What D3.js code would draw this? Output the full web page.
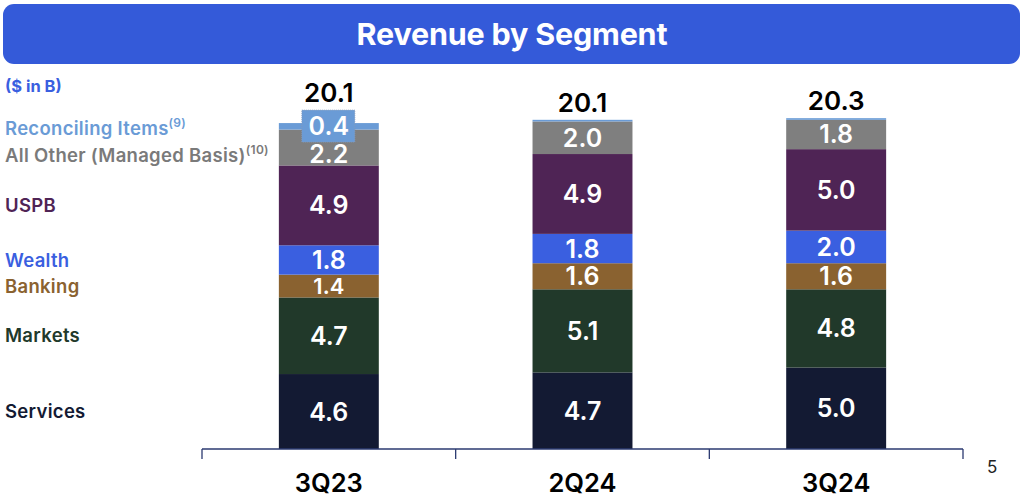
<!DOCTYPE html>
<html><head><meta charset="utf-8">
<script src="https://cdn.jsdelivr.net/npm/d3@7/dist/d3.min.js"></script>
<style>body{margin:0;background:#fff}svg{display:block;font-family:Inter,"Noto Sans",sans-serif}</style>
</head><body><svg id="c" width="1024" height="503"></svg>
<script>
const categories = ["3Q23", "2Q24", "3Q24"];
const segments = ["Services", "Markets", "Banking", "Wealth", "USPB", "All Other (Managed Basis)", "Reconciling Items"];
const superscripts = ["", "", "", "", "", "(10)", "(9)"];
const services = [4.6, 4.7, 5.0];
const markets = [4.7, 5.1, 4.8];
const banking = [1.4, 1.6, 1.6];
const wealth = [1.8, 1.8, 2.0];
const uspb = [4.9, 4.9, 5.0];
const allOther = [2.2, 2.0, 1.8];
const reconciling = [0.4, 0.1, 0.1];
const totals = ["20.1", "20.1", "20.3"];
const colors = ["#131a33", "#21392a", "#8a6230", "#3a5fe0", "#4f2455", "#7f7f7f", "#6a9bd6"];
const labelColors = ["#131a33", "#21392a", "#8a6230", "#3a5fe0", "#4f2455", "#7a7a7a", "#6a9bd6"];

const series = [services, markets, banking, wealth, uspb, allOther, reconciling];
const rows = categories.map((c, i) => {
  const r = {cat: c};
  segments.forEach((s, j) => r[s] = series[j][i]);
  return r;
});
const stack = d3.stack().keys(segments)(rows);

const svg = d3.select("#c");
// title bar
svg.append("rect").attr("x", 3).attr("y", 4).attr("width", 1017).attr("height", 60)
  .attr("rx", 11).attr("fill", "#345ad9");
svg.append("text").attr("x", 512).attr("y", 45).attr("text-anchor", "middle")
  .attr("fill", "#fff").attr("font-size", 30.5).attr("font-weight", 700)
  .attr("letter-spacing", -0.2).text("Revenue by Segment");

svg.append("text").attr("x", 5).attr("y", 92).attr("fill", "#3a5fe0")
  .attr("font-size", 16.5).attr("font-weight", 700).text("($ in B)");

const x = d3.scaleBand().domain(categories).range([202, 963]).paddingInner(0.606).paddingOuter(0.303);
const y = d3.scaleLinear().domain([0, 20.25]).range([449, 119]);

const g = svg.append("g");
stack.forEach((layer, j) => {
  g.selectAll(null).data(layer).enter().append("rect")
    .attr("x", d => x(d.data.cat)).attr("width", x.bandwidth())
    .attr("y", d => y(d[1])).attr("height", d => y(d[0]) - y(d[1]))
    .attr("fill", colors[j]);
});

// reconciling label box for 3Q23
const recIdx = segments.length - 1;
const boxTops = categories.map(() => null);
stack[recIdx].forEach((d, i) => {
  if (d.data[segments[recIdx]] >= 0.3) {
    const cx = x(d.data.cat) + x.bandwidth() / 2;
    const cy = y(d[1]) + 3;
    svg.append("rect").attr("x", cx - 27).attr("y", cy - 16).attr("width", 53).attr("height", 32)
      .attr("fill", colors[recIdx]).attr("stroke", "#8a9bb8").attr("stroke-dasharray", "1,1").attr("stroke-width", 0.8);
    boxTops[i] = cy - 16;
  }
});

// segment value labels
stack.forEach((layer, j) => {
  layer.forEach((d, i) => {
    const v = d.data[segments[j]];
    if (v < 0.3) return;
    const cx = x(d.data.cat) + x.bandwidth() / 2;
    const h = y(d[0]) - y(d[1]);
    let cy = (y(d[0]) + y(d[1])) / 2;
    if (j === recIdx) cy = y(d[1]) + 3;
    if (j === recIdx - 1 && d.data[segments[recIdx]] >= 0.3) cy += 6;
    svg.append("text").attr("x", cx).attr("y", cy).attr("dy", "0.36em")
      .attr("text-anchor", "middle").attr("fill", "#fff").attr("font-size", h < 26 && j !== recIdx ? 22 : 25)
      .attr("font-weight", 600).text(v.toFixed(1));
  });
});

// totals
stack[recIdx].forEach((d, i) => {
  const cx = x(d.data.cat) + x.bandwidth() / 2;
  const top = boxTops[i] !== null ? boxTops[i] : y(d[1]);
  svg.append("text").attr("x", cx).attr("y", top - 8)
    .attr("text-anchor", "middle").attr("fill", "#000").attr("font-size", 26)
    .attr("font-weight", 600).text(totals[i]);
});

// left segment labels, aligned to first bar
const nudges = [0, 0, 0, 0, 0, 8, 2];
segments.forEach((s, j) => {
  const d = stack[j][0];
  const cy = (y(d[0]) + y(d[1])) / 2 + nudges[j];
  const t = svg.append("text").attr("x", 5).attr("y", cy).attr("dy", "0.36em")
    .attr("fill", labelColors[j]).attr("font-size", 18.5).attr("font-weight", 600)
    .attr("letter-spacing", 0.3).text(s);
  if (superscripts[j]) t.append("tspan").attr("font-size", 12).attr("dy", "-0.7em").text(superscripts[j]);
});

// axis
const axisG = svg.append("g").attr("stroke", "#2b3a70").attr("stroke-width", 1.3);
axisG.append("line").attr("x1", 202).attr("x2", 963).attr("y1", 449).attr("y2", 449);
const step = x.step();
d3.range(categories.length + 1).forEach(i => {
  const tx = 202 + i * step;
  axisG.append("line").attr("x1", tx).attr("x2", tx).attr("y1", 449).attr("y2", 459);
});
categories.forEach(c => {
  svg.append("text").attr("x", x(c) + x.bandwidth() / 2).attr("y", 492)
    .attr("text-anchor", "middle").attr("fill", "#000").attr("font-size", 25.5)
    .attr("font-weight", 600).text(c);
});
svg.append("text").attr("x", 987).attr("y", 473).attr("fill", "#222").attr("font-size", 17).text("5");
</script></body></html>
